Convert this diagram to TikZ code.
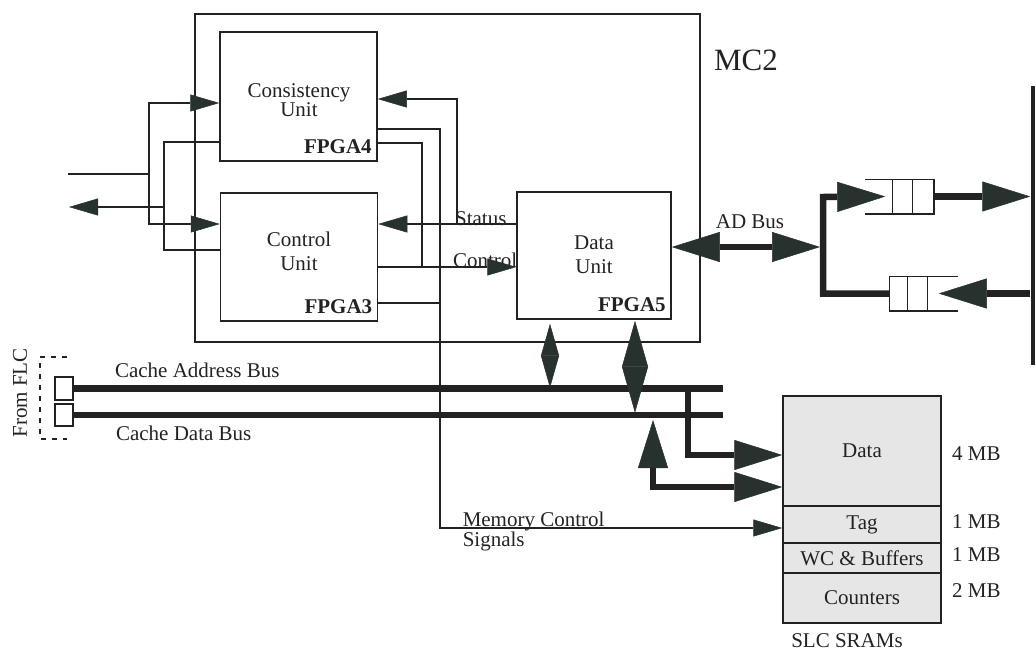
\documentclass[tikz,border=0pt]{standalone}
\usepackage{fontspec}
\setmainfont{Liberation Serif}
\usetikzlibrary{arrows.meta,calc}
\definecolor{ink}{HTML}{222222}
\definecolor{headfill}{HTML}{27312E}
\definecolor{sramgray}{HTML}{E6E6E6}

\begin{document}
\begin{tikzpicture}[x=1pt, y=-1pt, line width=1.5pt, color=ink,
  font=\fontsize{21}{19}\selectfont,
  unitbox/.style={draw, inner sep=0pt},
  sramcell/.style={draw, fill=sramgray, inner sep=0pt, minimum width=158pt},
  sig/.style={-{Triangle[length=29pt, width=17pt, line width=0.5pt, color=headfill]}},
  bus/.style={line width=6.5pt},
  fat/.style={bus, -{Triangle[length=48pt, width=30pt, line width=0.5pt, color=headfill]}},
  fatboth/.style={bus, {Triangle[length=48pt, width=30pt, line width=0.5pt, color=headfill]}-{Triangle[length=48pt, width=30pt, line width=0.5pt, color=headfill]}},
  dia/.style 2 args={line width=1pt, {Triangle[length=#1, width=#2, line width=0.5pt, color=headfill]}-{Triangle[length=#1, width=#2, line width=0.5pt, color=headfill]}}]
  \useasboundingbox (0,0) rectangle (1036,651);

  \node[unitbox, minimum width=505pt, minimum height=328pt] (mc2) at (447.5,178) {};
  \node[font=\fontsize{31}{31}\selectfont] (mc2lbl) at (746,60) {MC2};
  \node[unitbox, minimum width=157pt, minimum height=129pt] (cons) at (298.5,96.5) {};
  \node[unitbox, minimum width=157pt, minimum height=128pt] (ctrl) at (299,257) {};
  \node[unitbox, minimum width=154pt, minimum height=127pt] (data) at (594,255.5) {};
  \node[align=center] (consl) at (299,100.5) {Consistency\\Unit};
  \node[align=center, font=\fontsize{21}{24}\selectfont] (ctrll) at (299,251.5) {Control\\Unit};
  \node[align=center, font=\fontsize{21}{24}\selectfont] (datal) at (594,255) {Data\\Unit};
  \foreach \u/\f in {cons/4, ctrl/3, data/5}
    \node[anchor=base east, font=\fontsize{21}{19}\selectfont\bfseries] (fpga\f) at ([xshift=-2pt, yshift=8.5pt]\u.south east) {FPGA\f};

  \foreach \n/\t/\y/\h in {sdata/Data/451/110, stag/Tag/524.5/37, swc/WC \& Buffers/558/30, scnt/Counters/598/50}
    \node[sramcell, minimum height=\h] (\n) at (862,\y) {\t};
  \foreach \s/\y in {4/460, 1/528, 1/561, 2/597}
    \node[anchor=base west] (mb\y) at (948,\y) {\s\ MB};
  \node[anchor=base, inner sep=0pt] (slc) at (847,647) {SLC SRAMs};

  \coordinate (lin) at (68,174);
  \coordinate (lout) at (69,207);
  \draw (lin) -- (149,174);
  \draw[sig] (149,174) |- ($(cons.west)+(0,6.5)$);
  \draw[sig] (149,174) |- ($(ctrl.west)+(0,-33)$);
  \draw ($(cons.west)+(0,45.5)$) -| (164,250) -- ($(ctrl.west)+(0,-7)$);
  \draw[sig] (164,207) -- (lout);

  \node[anchor=base west] (stat) at (451,225) {Status};
  \node[anchor=base west] (ctl) at (449,267) {Control};
  \draw[sig] ($(data.west)+(0,-31.5)$) -- ($(ctrl.east)+(0,-33)$);
  \draw[sig] (457,224) |- ($(cons.east)+(0,2.5)$);
  \draw[sig] ($(ctrl.east)+(0,10)$) -- ($(data.west)+(0,11.5)$);
  \draw ($(cons.east)+(0,46.5)$) -| (422,267);
  \draw[sig] ($(cons.east)+(0,32.5)$) -| (440,528) -- ($(stag.west)+(0,3.5)$);
  \draw ($(ctrl.east)+(0,46)$) -- (440,303);
  \node[anchor=north west, inner sep=0pt, align=left, font=\fontsize{21}{17}\selectfont] (mcs) at (462,511) {Memory Control\\Signals};

  \node[draw, minimum width=18pt, minimum height=23pt] (pa) at (64,388.5) {};
  \node[draw, minimum width=18pt, minimum height=22pt] (pd) at (64,415) {};
  \coordinate (abus) at (723,388.5);
  \coordinate (dbus) at (723,415);
  \draw[bus] (pa.east) -- (abus);
  \draw[bus] (pd.east) -- (dbus);
  \draw[dash pattern=on 5pt off 6pt, line width=1.3pt] (67,357) -| (40,439) -- (67,439);
  \node[rotate=90] (flc) at (20,393) {From FLC};
  \node[anchor=base west] (abl) at (111,377) {Cache Address Bus};
  \node[anchor=base west] (dbl) at (112,440) {Cache Data Bus};

  \draw[dia={32pt}{18pt}] ($(data.south)+(-44,4)$) -- ($(data.south)+(-44,68)$);
  \draw[dia={46pt}{26pt}] ($(data.south)+(41,1)$) -- ($(data.south)+(41,93)$);
  \draw[fat, line join=miter] (688,388.5) |- ($(sdata.west)+(0,4)$);
  \draw[fatboth, line join=miter] (653,420) |- ($(sdata.west)+(0,36)$);

  \node[inner sep=0pt, minimum width=67pt, minimum height=33pt] (q1) at (899.5,196.5) {};
  \node[inner sep=0pt, minimum width=67pt, minimum height=33pt] (q2) at (923.5,293.5) {};
  \draw (q1.north west) -- (q1.north east) -- (q1.south east) -- (q1.south west);
  \draw (q2.north east) -- (q2.north west) -- (q2.south west) -- (q2.south east);
  \foreach \d in {27,47} \draw ($(q1.north west)+(\d,0)$) -- ($(q1.south west)+(\d,0)$);
  \foreach \d in {18,38} \draw ($(q2.north west)+(\d,0)$) -- ($(q2.south west)+(\d,0)$);
  \node[fill=ink, inner sep=0pt, minimum width=4pt, minimum height=279pt] (bar) at (1033,225.5) {};
  \draw[fatboth] ($(data.east)+(0,-8.5)$) -- (820,247);
  \node[anchor=base] (adl) at (750,228) {AD Bus};
  \draw[fat, line join=miter] (q2.west) -| (823,197) -- ($(q1.west)+(20,0)$);
  \draw[fat] (q1.east) -- (q1.east -| bar.west);
  \draw[fat] (q2.east -| bar.west) -- ($(q2.east)+(-19,0)$);
\end{tikzpicture}
\end{document}
